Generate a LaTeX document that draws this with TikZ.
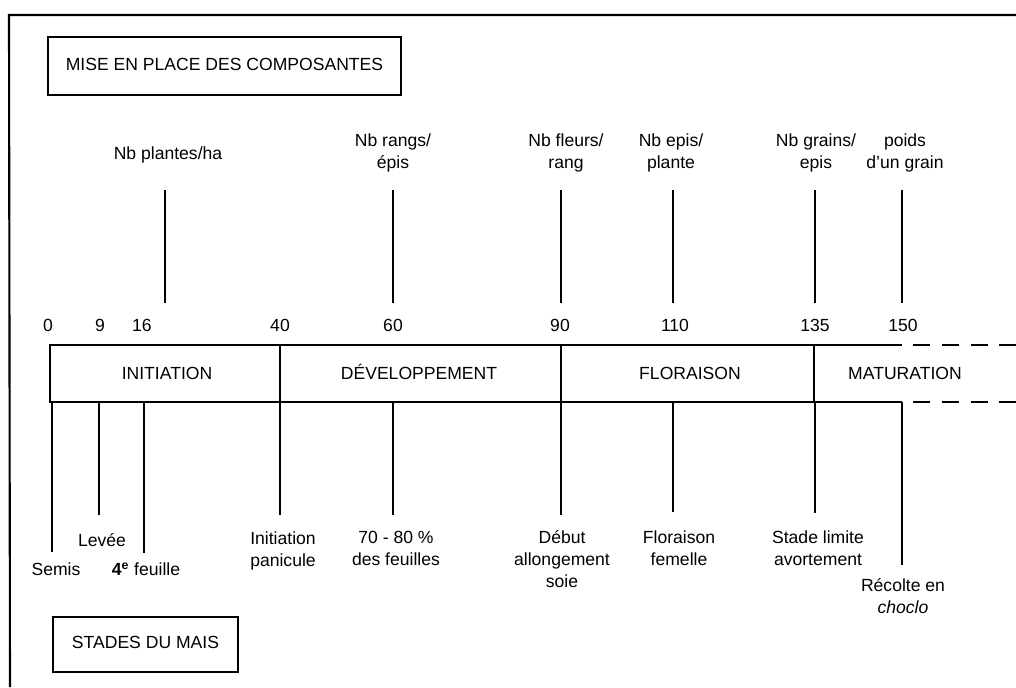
\documentclass[tikz,border=0pt]{standalone}
\usepackage{fontspec}
\setmainfont{Liberation Sans}
\usepackage{tikz}
\usetikzlibrary{positioning}

\begin{document}
\begin{tikzpicture}[x=0.02cm, y=-0.02cm,
                    frame/.style={very thick, black},
                    titlebox/.style={draw, thick, black},
                    mytick/.style={thick, black},
                    band/.style={very thick, black},
                    bandash/.style={very thick, black, dash pattern=on 9.6pt off 6.8pt},
                    lbl/.style={align=center, inner sep=0pt, font=\fontsize{10}{12.5}\selectfont,
                                execute at begin node=\strut, execute at end node=\strut},
                   ]

\useasboundingbox (0,0) rectangle (1016,687);

\draw[frame] (1016,15) -- (9,15) -- (10,687);

\node[titlebox, lbl, minimum width=7.06cm, minimum height=1.16cm] (mise) at (224.5,66) {MISE EN PLACE DES COMPOSANTES};
\node[titlebox, lbl, minimum width=3.7cm, minimum height=1.1cm] (stades) at (145.5,644.5) {STADES DU MAIS};

\node[lbl] (plantes) at (168,155) {Nb plantes/ha};
\node[lbl] (rangs) at (393,154.5) {Nb rangs/\\épis};
\node[lbl] (fleurs) at (566,154.5) {Nb fleurs/\\rang};
\node[lbl] (epis) at (671,154.5) {Nb epis/\\plante};
\node[lbl] (grains) at (816,154.5) {Nb grains/\\epis};
\node[lbl] (poids) at (905,154.5) {poids\\d'un grain};

\foreach \x [count=\i] in {165,393,561,673,815,902}{
  \coordinate (ct\i) at (\x,190);
  \coordinate (cb\i) at (\x,303);
  \draw[mytick] (ct\i) -- (cb\i);
}

\foreach \x/\n in {48/0, 100/9, 142/16, 280/40, 393/60, 560/90, 675/110, 815/135, 903/150}
  \node[lbl] (n\n) at (\x,327) {\n};

\coordinate (bandNW) at (50,345);
\coordinate (bandSW) at (50,402);
\coordinate (bandNE) at (902,345);
\coordinate (bandSE) at (902,402);
\coordinate (dashN) at (913,345);
\coordinate (dashS) at (913,402);
\coordinate (endN) at (1016,345);
\coordinate (endS) at (1016,402);

\draw[band] (bandNE) -- (bandNW) -- (bandSW) -- (bandSE);
\draw[bandash] (dashN) -- (endN);
\draw[bandash] (dashS) -- (endS);

\foreach \x [count=\i] in {280,561,814}{
  \coordinate (dt\i) at (\x,345);
  \coordinate (db\i) at (\x,402);
  \draw[mytick] (dt\i) -- (db\i);
}

\node[lbl] (initiation) at (167,375) {INITIATION};
\node[lbl] (developpement) at (419,375) {DÉVELOPPEMENT};
\node[lbl] (floraison) at (690,375) {FLORAISON};
\node[lbl] (maturation) at (905,375) {MATURATION};

\foreach \x/\y [count=\i] in {52/552, 99/515, 144/553, 280/515, 393/515, 561/515, 673/512, 815/513, 902/565}{
  \coordinate (st\i) at (\x,402);
  \coordinate (sb\i) at (\x,\y);
  \draw[mytick] (st\i) -- (sb\i);
}

\node[lbl] (levee) at (102,542) {Levée};
\node[lbl] (semis) at (56,571) {Semis};
\node[lbl] (feuille) at (146,571) {\textbf{4\textsuperscript{e}} feuille};
\node[lbl] (panicule) at (283,552) {Initiation\\panicule};
\node[lbl] (feuilles) at (396,552) {70 - 80 \%\\des feuilles};
\node[lbl] (debut) at (562,562) {Début\\allongement\\soie};
\node[lbl] (femelle) at (679,551) {Floraison\\femelle};
\node[lbl] (avortement) at (818,551) {Stade limite\\avortement};
\node[lbl] (recolte) at (903,599) {Récolte en\\\textit{choclo}};

\end{tikzpicture}
\end{document}
